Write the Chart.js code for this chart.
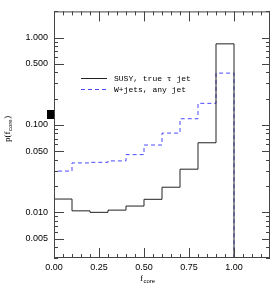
<!DOCTYPE html>
<html>
<head>
<meta charset="utf-8">
<script src="https://cdn.jsdelivr.net/npm/chart.js@4"></script>
<style>
  html, body { margin: 0; padding: 0; background: #fff; }
  #wrap { position: relative; width: 274px; height: 287px; }
  #mark { position: absolute; left: 47px; top: 110px; width: 7px; height: 9px; background: #000; }
</style>
</head>
<body>
<div id="wrap">
  <canvas id="chart" width="274" height="287"></canvas>
  <div id="mark"></div>
</div>
<script>
// f_core histogram, bins of 0.1
var binEdges = [0.0, 0.1, 0.2, 0.3, 0.4, 0.5, 0.6, 0.7, 0.8, 0.9, 1.0];
var susy  = [0.0142, 0.0104, 0.0100, 0.0106, 0.0118, 0.0141, 0.0194, 0.0312, 0.0626, 0.85];
var wjets = [0.0297, 0.0368, 0.0374, 0.0388, 0.0458, 0.0590, 0.0808, 0.118, 0.177, 0.393];
var xTickLabels = [0.0, 0.25, 0.5, 0.75, 1.0];
var yTickLabels = [0.005, 0.01, 0.05, 0.1, 0.5, 1.0];
var yMin = 0.003, yMax = 2.0;

var seriesNames = ['SUSY, true \u03c4 jet', 'W+jets, any jet'];

// step outline: up from the floor, across each bin, back down at the last edge
function histPoints(vals) {
  var pts = [{x: binEdges[0], y: yMin}];
  for (var i = 0; i < vals.length; i++) pts.push({x: binEdges[i], y: vals[i]});
  var last = binEdges[binEdges.length - 1];
  pts.push({x: last, y: vals[vals.length - 1]});
  pts.push({x: last, y: yMin});
  return pts;
}

const tickFont = {family: 'Liberation Sans, Arial, sans-serif', size: 9};

// inside tick marks, frame, axis titles, legend
const decorations = {
  id: 'decorations',
  afterDatasetsDraw(chart) {
    const ctx = chart.ctx;
    const a = chart.chartArea;
    const xs = chart.scales.x, ys = chart.scales.y;
    ctx.save();
    ctx.strokeStyle = '#444';
    ctx.lineWidth = 1;
    ctx.strokeRect(a.left + 0.5, a.top + 0.5, a.right - a.left - 1, a.bottom - a.top - 1);

    ctx.beginPath();
    for (var i = 1; i <= 23; i++) {
      var px = Math.round(xs.getPixelForValue(i * 0.05)) + 0.5;
      var len = (i % 5 === 0) ? 10 : 4;
      ctx.moveTo(px, a.bottom); ctx.lineTo(px, a.bottom - len);
      ctx.moveTo(px, a.top); ctx.lineTo(px, a.top + len);
    }
    for (var d = -3; d <= 0; d++) {
      for (var m = 1; m <= 9; m++) {
        var v = m * Math.pow(10, d);
        if (v < yMin || v > yMax) continue;
        var py = Math.round(ys.getPixelForValue(v)) + 0.5;
        var major = (m === 1 || m === 5);
        ctx.moveTo(a.left, py); ctx.lineTo(a.left + (major ? 10 : 4), py);
        ctx.moveTo(a.right, py); ctx.lineTo(a.right - (major ? 8 : 4), py);
      }
    }
    ctx.stroke();

    // axis titles with subscripts
    ctx.fillStyle = '#000';
    ctx.textBaseline = 'alphabetic';
    ctx.font = '9px "Liberation Serif", serif';
    var fx = 140, fy = 281;
    ctx.fillText('f', fx, fy);
    ctx.font = '6px "Liberation Sans", sans-serif';
    ctx.fillText('core', fx + 3.5, fy + 2);

    ctx.save();
    ctx.translate(10, 142);
    ctx.rotate(-Math.PI / 2);
    ctx.font = '9px "Liberation Serif", serif';
    ctx.fillText('p(f', 0, 0);
    var w = ctx.measureText('p(f').width;
    ctx.font = '6px "Liberation Sans", sans-serif';
    ctx.fillText('core', w + 0.5, 2);
    var w2 = ctx.measureText('core').width;
    ctx.font = '9px "Liberation Serif", serif';
    ctx.fillText(')', w + w2 + 1, 0);
    ctx.restore();

    // legend
    ctx.font = '8px "Liberation Mono", "Courier New", monospace';
    ctx.textBaseline = 'middle';
    chart.data.datasets.forEach(function (ds, k) {
      var ly = 78 + k * 11 + 0.5;
      ctx.beginPath();
      ctx.strokeStyle = ds.borderColor;
      ctx.setLineDash(ds.borderDash || []);
      ctx.moveTo(81, ly); ctx.lineTo(107, ly);
      ctx.stroke();
      ctx.setLineDash([]);
      ctx.fillText(ds.label, 114, ly);
    });
    ctx.restore();
  }
};

new Chart(document.getElementById('chart').getContext('2d'), {
  type: 'line',
  data: {
    datasets: [{
      label: seriesNames[0],
      data: histPoints(susy),
      borderColor: '#222',
      borderWidth: 1,
      stepped: 'before',
      pointRadius: 0,
      fill: false
    }, {
      label: seriesNames[1],
      data: histPoints(wjets),
      borderColor: '#4a4aff',
      borderWidth: 1,
      borderDash: [4, 3],
      stepped: 'before',
      pointRadius: 0,
      fill: false
    }]
  },
  options: {
    responsive: false,
    animation: false,
    layout: {padding: {top: 10, right: 4, left: 0, bottom: 0}},
    plugins: {legend: {display: false}, tooltip: {enabled: false}},
    scales: {
      x: {
        type: 'linear',
        min: 0, max: 1.2,
        afterBuildTicks: function (s) { s.ticks = xTickLabels.map(function (v) { return {value: v}; }); },
        afterFit: function (s) { s.height = 29; },
        ticks: {
          font: tickFont, color: '#000', padding: 4, maxRotation: 0,
          callback: function (v) { return Number(v).toFixed(2); }
        },
        grid: {drawOnChartArea: false, drawTicks: false},
        border: {display: false}
      },
      y: {
        type: 'logarithmic',
        min: yMin, max: yMax,
        afterBuildTicks: function (s) { s.ticks = yTickLabels.map(function (v) { return {value: v}; }); },
        afterFit: function (s) { s.width = 54; },
        ticks: {
          font: tickFont, color: '#000', padding: 6,
          callback: function (v) { return Number(v).toFixed(3); }
        },
        grid: {drawOnChartArea: false, drawTicks: false},
        border: {display: false}
      }
    }
  },
  plugins: [decorations]
});
</script>
</body>
</html>
